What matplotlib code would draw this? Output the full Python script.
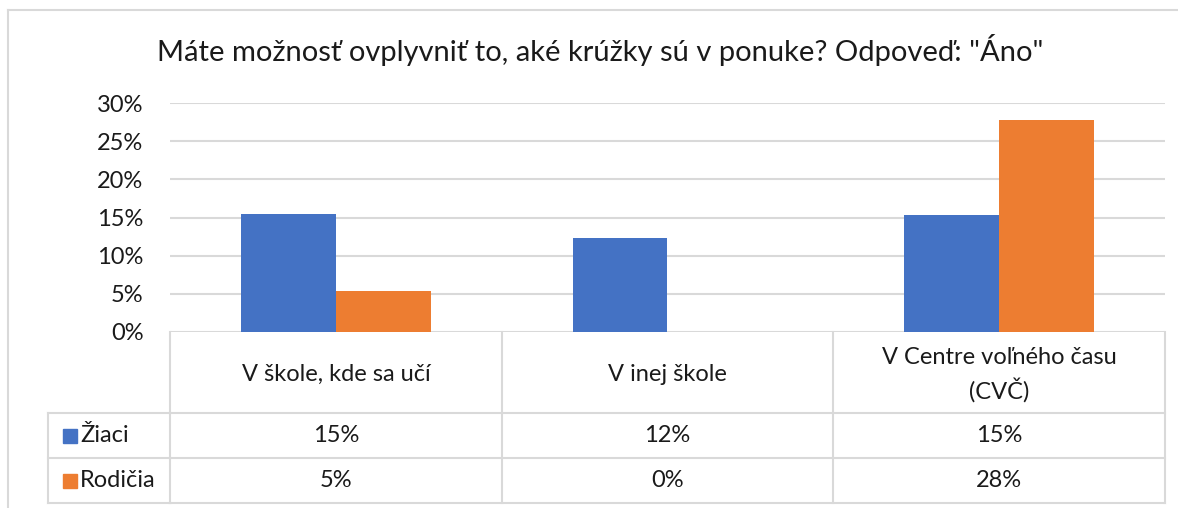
import numpy as np
import matplotlib.pyplot as plt
import matplotlib.transforms as mtransforms
from matplotlib.patches import Rectangle

plt.rcParams['font.family'] = ['Lato', 'DejaVu Sans']

# data
categories = ['V škole, kde sa učí', 'V inej škole', 'V Centre voľného času\n(CVČ)']
series_names = ['Žiaci', 'Rodičia']
ziaci = [0.155, 0.123, 0.153]
rodicia = [0.054, 0.0, 0.278]
ziaci_lbl = ['15%', '12%', '15%']
rodicia_lbl = ['5%', '0%', '28%']
colors = ['#4472C4', '#ED7D31']
yticks = [0, 0.05, 0.10, 0.15, 0.20, 0.25, 0.30]

W, H = 1178, 508
fig = plt.figure(figsize=(W / 100, H / 100), dpi=100)
txt = '#1a1a1a'
grid = '#D9D9D9'
fs = 17

# plot area in pixels: x 170..1165, y 103..332
ax = fig.add_axes([170 / W, 1 - 332 / H, (1165 - 170) / W, (332 - 103) / H])
x = np.arange(len(categories))
bw = 1 / 3.5
ax.bar(x - bw / 2, ziaci, bw, color=colors[0], zorder=2)
ax.bar(x + bw / 2, rodicia, bw, color=colors[1], zorder=2)
ax.set_xlim(-0.5, len(categories) - 0.5)
ax.set_ylim(0, 0.30)
ax.set_yticks(yticks)
ax.set_yticklabels([f'{int(round(t * 100))}%' for t in yticks], fontsize=fs, color=txt)
ax.tick_params(axis='y', length=0, pad=19)
ax.set_xticks([])
ax.grid(axis='y', color=grid, lw=1.5, zorder=0)
for s in ax.spines.values():
    s.set_visible(False)

# overlay in pixel coordinates for title, table and border
ov = fig.add_axes([0, 0, 1, 1])
ov.set_xlim(0, W)
ov.set_ylim(H, 0)
ov.axis('off')
ov.patch.set_alpha(0)

# chart border (left/top visible)
ov.plot([8, 8], [10, H], color=grid, lw=1.5)
ov.plot([8, W], [10, 10], color=grid, lw=1.5)

ov.text(600, 50, 'Máte možnosť ovplyvniť to, aké krúžky sú v ponuke? Odpoveď: "Áno"',
        ha='center', va='center', fontsize=21, color=txt)

# data table: x from bar axes data coords, y in pixels
bt = mtransforms.blended_transform_factory(ax.transData, ov.transData)
y_top, y_hdr, y_r1, y_r2 = 332, 413, 458, 503
edges = np.arange(len(categories) + 1) - 0.5
for e in edges:
    ov.plot([e, e], [y_top, y_r2], color=grid, lw=1.5, transform=bt, clip_on=False)
for yy in [y_hdr, y_r1, y_r2]:
    ov.plot([48, 170], [yy, yy], color=grid, lw=1.5)
    ov.plot([edges[0], edges[-1]], [yy, yy], color=grid, lw=1.5, transform=bt, clip_on=False)
ov.plot([48, 48], [y_hdr, y_r2], color=grid, lw=1.5)

for i, cat in enumerate(categories):
    ov.text(x[i], (y_top + y_hdr) / 2 + 2, cat, ha='center', va='center', fontsize=fs,
            color=txt, transform=bt, linespacing=1.45)
    ov.text(x[i], (y_hdr + y_r1) / 2, ziaci_lbl[i], ha='center', va='center',
            fontsize=fs, color=txt, transform=bt)
    ov.text(x[i], (y_r1 + y_r2) / 2, rodicia_lbl[i], ha='center', va='center',
            fontsize=fs, color=txt, transform=bt)

for k, (name, c) in enumerate(zip(series_names, colors)):
    yc = (y_hdr + y_r1) / 2 if k == 0 else (y_r1 + y_r2) / 2
    ov.add_patch(Rectangle((63, yc - 7), 14, 14, color=c))
    ov.text(80, yc, name, ha='left', va='center', fontsize=fs, color=txt)

fig.savefig('out.png', dpi=100)
